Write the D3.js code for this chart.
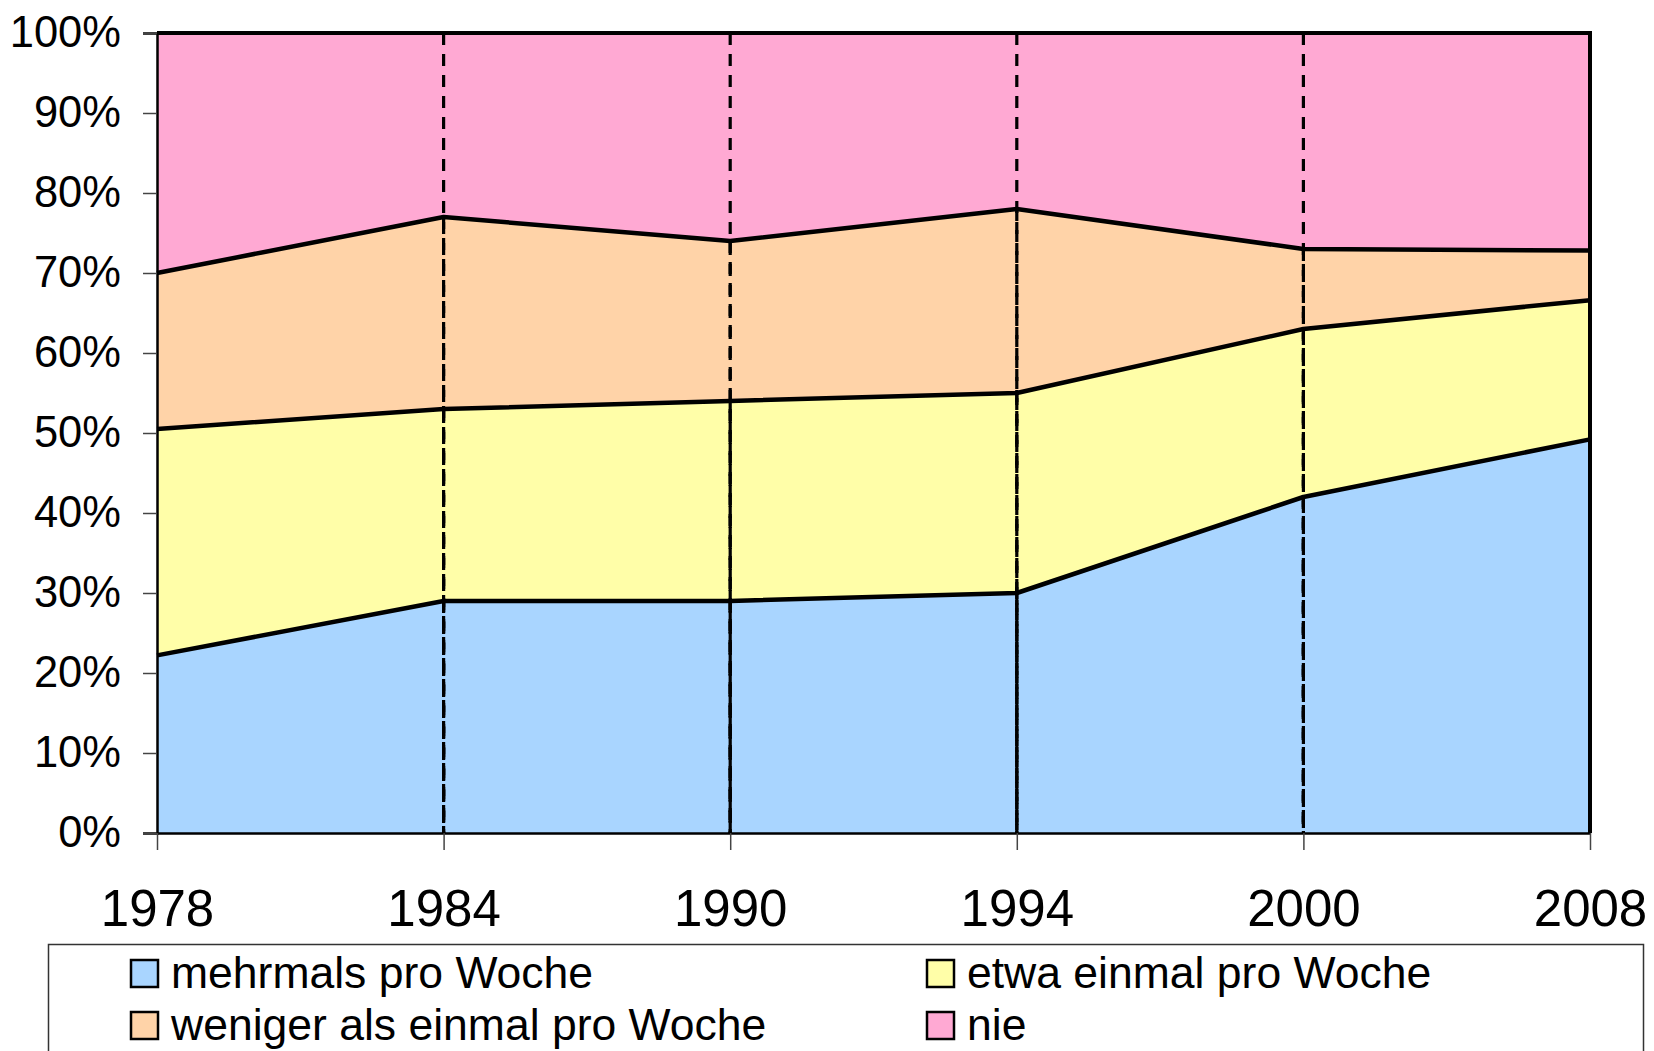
<!DOCTYPE html>
<html>
<head>
<meta charset="utf-8">
<script src="https://cdn.jsdelivr.net/npm/d3@7/dist/d3.min.js"></script>
<style>
  html, body { margin: 0; padding: 0; background: #fff; }
  svg text { font-family: "Liberation Sans", Arial, sans-serif; fill: #000; }
</style>
</head>
<body>
<script>
// Kirchgang-Häufigkeit, Anteile in Prozent (gestapelt, Summe 100)
const years = ['1978', '1984', '1990', '1994', '2000', '2008'];
const mehrmals = [22.2, 29, 29, 30, 42, 49.2];
const etwa = [28.3, 24, 25, 25, 21, 17.4];
const weniger = [19.5, 24, 20, 23, 10, 6.2];
const nie = [30, 23, 26, 22, 27, 27.2];
const seriesNames = ['mehrmals pro Woche', 'etwa einmal pro Woche', 'weniger als einmal pro Woche', 'nie'];
const seriesColors = ['#a9d5ff', '#fffea8', '#ffd3a8', '#ffa9d3'];
const yTicks = [0, 10, 20, 30, 40, 50, 60, 70, 80, 90, 100];

const width = 1654, height = 1051;
const plot = { left: 157, right: 1590, top: 33, bottom: 833 };

const svg = d3.select('body').append('svg')
              .attr('width', width)
              .attr('height', height);

const keys = ['mehrmals', 'etwa', 'weniger', 'nie'];
const table = years.map((y, i) => ({
   year: y,
   mehrmals: mehrmals[i],
   etwa: etwa[i],
   weniger: weniger[i],
   nie: nie[i]
}));
const stacked = d3.stack().keys(keys)(table);

const x = d3.scalePoint()
            .domain(years)
            .range([plot.left, plot.right]);
const y = d3.scaleLinear()
            .domain([0, 100])
            .range([plot.bottom, plot.top]);

const area = d3.area()
               .x(d => x(d.data.year))
               .y0(d => y(d[0]))
               .y1(d => y(d[1]));

// filled layers
svg.append('g')
   .selectAll('path')
   .data(stacked)
   .enter()
   .append('path')
   .attr('d', area)
   .attr('fill', (d, i) => seriesColors[i]);

// drop lines, one per layer and year (Excel style)
const drops = [];
stacked.forEach(layer => {
   layer.forEach(d => {
      if (d.data.year !== years[0] && d.data.year !== years[years.length - 1]) {
         drops.push({ year: d.data.year, top: d[1] });
      }
   });
});
svg.append('g')
   .selectAll('line')
   .data(drops)
   .enter()
   .append('line')
   .attr('x1', d => x(d.year))
   .attr('x2', d => x(d.year))
   .attr('y1', d => y(d.top))
   .attr('y2', y(0))
   .attr('stroke', '#000')
   .attr('stroke-width', 3.2)
   .attr('stroke-dasharray', '12,9');

// layer boundaries
const line = d3.line()
               .x(d => x(d.data.year))
               .y(d => y(d[1]));
svg.append('g')
   .selectAll('path')
   .data(stacked.slice(0, 3))
   .enter()
   .append('path')
   .attr('d', line)
   .attr('fill', 'none')
   .attr('stroke', '#000')
   .attr('stroke-width', 4.5)
   .attr('stroke-linejoin', 'round');

// frame: top and right edge of top series
svg.append('path')
   .attr('d', `M${plot.left},${y(100)}H${plot.right}V${y(0)}`)
   .attr('fill', 'none')
   .attr('stroke', '#000')
   .attr('stroke-width', 4);

// y axis
const yAxis = svg.append('g')
                 .attr('transform', `translate(${plot.left},0)`)
                 .call(d3.axisLeft(y).tickValues(yTicks).tickSize(14).tickPadding(22).tickFormat(d => d + '%'));
yAxis.select('.domain').attr('stroke', '#000').attr('stroke-width', 2.5);
yAxis.selectAll('.tick line').attr('stroke', '#444').attr('stroke-width', 1.5);
yAxis.selectAll('.tick text')
     .attr('font-size', 43.5)
     .attr('font-family', '"Liberation Sans", Arial, sans-serif')
     .attr('fill', '#000');

// x axis
const xAxis = svg.append('g')
                 .attr('transform', `translate(0,${plot.bottom})`)
                 .call(d3.axisBottom(x).tickSize(17).tickPadding(0).tickSizeOuter(0));
xAxis.select('.domain').attr('stroke', '#000').attr('stroke-width', 2.5);
xAxis.selectAll('.tick line').attr('stroke', '#444').attr('stroke-width', 1.5);
xAxis.selectAll('.tick text')
     .attr('font-size', 51)
     .attr('font-family', '"Liberation Sans", Arial, sans-serif')
     .attr('fill', '#000')
     .attr('dy', null)
     .attr('y', 93);

// legend
const legend = svg.append('g');
legend.append('rect')
      .attr('x', 48.5)
      .attr('y', 944.5)
      .attr('width', 1595)
      .attr('height', 200)
      .attr('fill', '#fff')
      .attr('stroke', '#333')
      .attr('stroke-width', 1.5);

const legendPos = [
   { x: 131, y: 960 },
   { x: 927, y: 960 },
   { x: 131, y: 1012 },
   { x: 927, y: 1012 }
];
const items = legend.selectAll('g.item')
                    .data(seriesNames)
                    .enter()
                    .append('g')
                    .attr('class', 'item')
                    .attr('transform', (d, i) => `translate(${legendPos[i].x},${legendPos[i].y})`);
items.append('rect')
     .attr('width', 27)
     .attr('height', 27)
     .attr('fill', (d, i) => seriesColors[i])
     .attr('stroke', '#000')
     .attr('stroke-width', 2.5);
items.append('text')
     .attr('x', 40)
     .attr('y', 28)
     .attr('font-size', 44.5)
     .text(d => d);
</script>
</body>
</html>
